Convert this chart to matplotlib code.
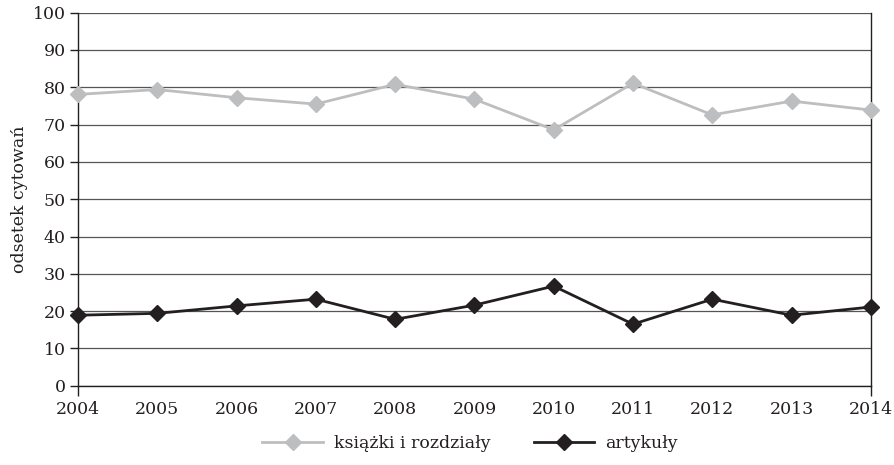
import matplotlib
matplotlib.use("Agg")
import matplotlib.pyplot as plt

years = [2004, 2005, 2006, 2007, 2008, 2009, 2010, 2011, 2012, 2013, 2014]
books = [78.1, 79.4, 77.2, 75.5, 80.8, 76.8, 68.6, 81.1, 72.6, 76.3, 73.9]
articles = [18.9, 19.4, 21.4, 23.2, 17.8, 21.6, 26.7, 16.5, 23.2, 18.9, 21.1]
series_labels = ["książki i rozdziały", "artykuły"]
y_label = "odsetek cytowań"

plt.rcParams['font.family'] = ['DejaVu Serif']

fig = plt.figure(figsize=(8.95, 4.65), dpi=100)
ax = fig.add_axes([0.0872, 0.1705, 0.8858, 0.8022])

ax.plot(years, books, color='#bdbec0', lw=2.0, marker='D', ms=8.5,
        label=series_labels[0], zorder=3, clip_on=False)
ax.plot(years, articles, color='#231f20', lw=2.0, marker='D', ms=8.5,
        label=series_labels[1], zorder=3, clip_on=False)

ax.set_xlim(years[0], years[-1])
ax.set_ylim(0, 100)
ax.set_yticks(range(0, 101, 10))
ax.set_xticks(years)
ax.xaxis.remove_overlapping_locs = False
ax.set_xticks([years[0], years[-1]], minor=True)
ax.tick_params(axis='x', which='major', length=0, pad=11, labelsize=12.5, colors='#231f20')
ax.tick_params(axis='x', which='minor', length=7, width=1, color='#231f20', direction='out')
ax.tick_params(axis='y', length=6, width=1, color='#231f20', labelsize=12.5, pad=3, labelcolor='#231f20')

ax.grid(axis='y', color='#555555', lw=0.9)
ax.set_axisbelow(True)
for s in ['top']:
    ax.spines[s].set_visible(False)
for s in ['left', 'right', 'bottom']:
    ax.spines[s].set_color('#231f20')
    ax.spines[s].set_linewidth(1.0)

ax.set_ylabel(y_label, fontsize=12.5, color='#231f20', labelpad=3)

leg = fig.legend(loc='center', bbox_to_anchor=(0.525, 0.047), ncol=2, frameon=False,
                 fontsize=12.5, handlelength=3.5, columnspacing=2.5, handletextpad=0.6)
for t in leg.get_texts():
    t.set_color('#231f20')

fig.savefig("out.png", dpi=100)
